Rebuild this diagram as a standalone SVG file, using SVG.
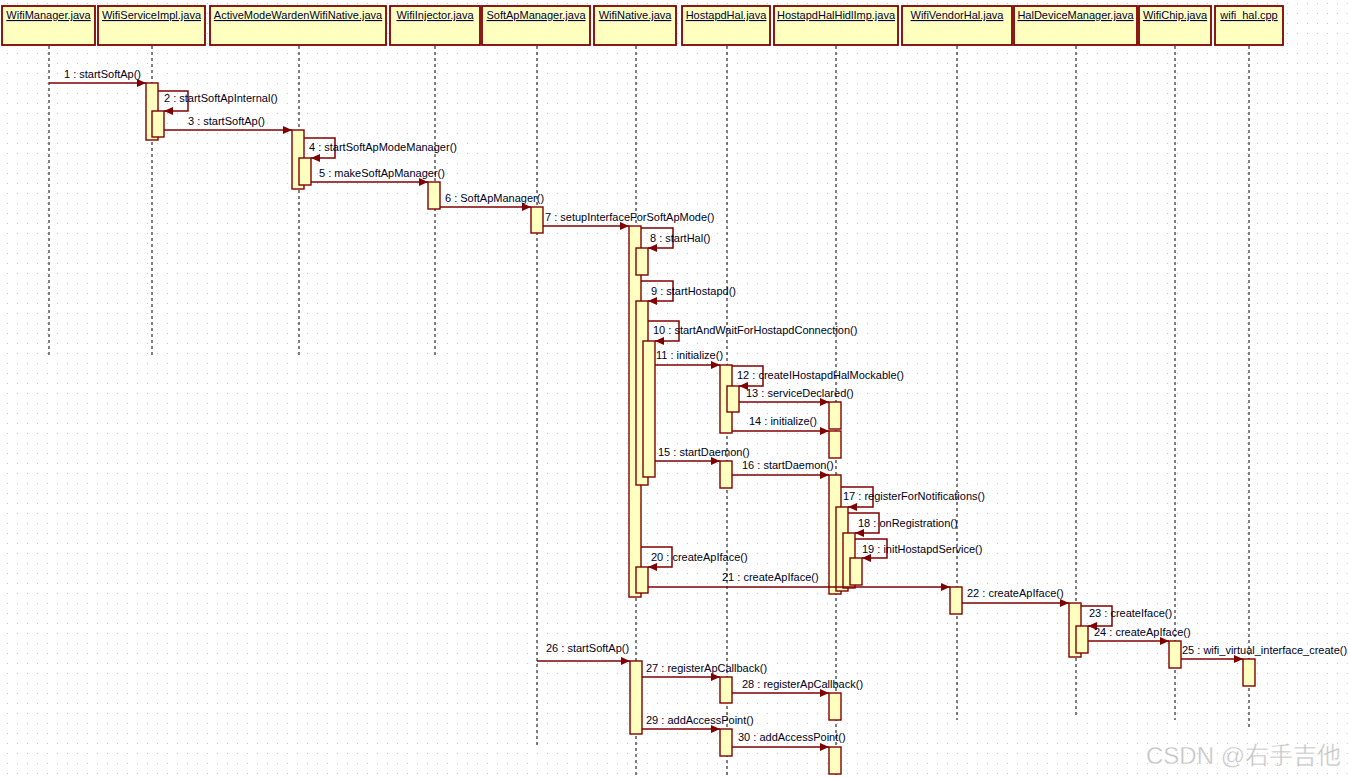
<svg xmlns="http://www.w3.org/2000/svg" width="1348" height="777" viewBox="0 0 1348 777">
<defs>
<pattern id="grid" width="10" height="10" patternUnits="userSpaceOnUse"><rect x="7" y="3" width="1" height="1" fill="#c4c4c4"/></pattern>
<marker id="ah" markerWidth="10" markerHeight="9" refX="9" refY="4" orient="auto" markerUnits="userSpaceOnUse"><path d="M0,0 L9,4 L0,8 Z" fill="#800000"/></marker>
<style>
.hdr{fill:#ffffc0;stroke:#800000;stroke-width:1.8}
.ht{font-family:"Liberation Sans",Arial,sans-serif;font-size:11px;fill:#000040;text-anchor:middle;text-decoration:underline}
.ll{stroke:#000;stroke-width:1;stroke-dasharray:3,3;fill:none}
.act{fill:#ffffc0;stroke:#800000;stroke-width:1.4}
.msg{stroke:#800000;stroke-width:1.5;fill:none;marker-end:url(#ah)}
.lb{font-family:"Liberation Sans",Arial,sans-serif;font-size:11px;fill:#000020}
.wm{font-family:"Liberation Sans","Noto Sans CJK SC",sans-serif;font-size:24px;fill:#c4c4c4;stroke:#ffffff;stroke-width:0.4}
</style>
</defs>
<rect width="1348" height="777" fill="#ffffff"/>
<rect width="1348" height="777" fill="url(#grid)"/>

<g id="WifiManager">
<rect class="hdr" x="2" y="6" width="93" height="39"/>
<text class="ht" x="48.5" y="19">WifiManager.java</text>
<line class="ll" x1="49" y1="46" x2="49" y2="355"/>
</g>
<g id="WifiServiceImpl">
<rect class="hdr" x="98" y="6" width="107" height="39"/>
<text class="ht" x="151.5" y="19">WifiServiceImpl.java</text>
<line class="ll" x1="152" y1="46" x2="152" y2="355"/>
<rect class="act" x="146" y="83" width="12" height="57"/>
<rect class="act" x="152" y="111" width="12" height="26"/>
</g>
<g id="ActiveModeWardenWifiNative">
<rect class="hdr" x="210" y="6" width="176" height="39"/>
<text class="ht" x="298" y="19">ActiveModeWardenWifiNative.java</text>
<line class="ll" x1="299" y1="46" x2="299" y2="355"/>
<rect class="act" x="292" y="130" width="12" height="59"/>
<rect class="act" x="299" y="158" width="12" height="27"/>
</g>
<g id="WifiInjector">
<rect class="hdr" x="390" y="6" width="90" height="39"/>
<text class="ht" x="435" y="19">WifiInjector.java</text>
<line class="ll" x1="435" y1="46" x2="435" y2="355"/>
<rect class="act" x="428" y="182" width="12" height="27"/>
</g>
<g id="SoftApManager">
<rect class="hdr" x="482" y="6" width="108" height="39"/>
<text class="ht" x="536" y="19">SoftApManager.java</text>
<line class="ll" x1="537" y1="46" x2="537" y2="745"/>
<rect class="act" x="531" y="207" width="12" height="26"/>
</g>
<g id="WifiNative">
<rect class="hdr" x="594" y="6" width="82" height="39"/>
<text class="ht" x="635" y="19">WifiNative.java</text>
<line class="ll" x1="636" y1="46" x2="636" y2="777"/>
<rect class="act" x="629" y="226" width="12" height="371"/>
<rect class="act" x="636" y="248" width="12" height="27"/>
<rect class="act" x="636" y="301" width="12" height="184"/>
<rect class="act" x="643" y="341" width="12" height="136"/>
<rect class="act" x="636" y="567" width="12" height="26"/>
<rect class="act" x="630" y="661" width="12" height="73"/>
</g>
<g id="HostapdHal">
<rect class="hdr" x="682" y="6" width="88" height="39"/>
<text class="ht" x="726" y="19">HostapdHal.java</text>
<line class="ll" x1="727" y1="46" x2="727" y2="777"/>
<rect class="act" x="720" y="365" width="12" height="68"/>
<rect class="act" x="727" y="386" width="12" height="26"/>
<rect class="act" x="720" y="461" width="12" height="27"/>
<rect class="act" x="720" y="677" width="12" height="26"/>
<rect class="act" x="720" y="729" width="12" height="27"/>
</g>
<g id="HostapdHalHidlImp">
<rect class="hdr" x="774" y="6" width="124" height="39"/>
<text class="ht" x="836" y="19">HostapdHalHidlImp.java</text>
<line class="ll" x1="836" y1="46" x2="836" y2="777"/>
<rect class="act" x="829" y="402" width="12" height="27"/>
<rect class="act" x="829" y="431" width="12" height="27"/>
<rect class="act" x="829" y="475" width="12" height="119"/>
<rect class="act" x="836" y="507" width="12" height="84"/>
<rect class="act" x="843" y="533" width="12" height="55"/>
<rect class="act" x="850" y="558" width="12" height="27"/>
<rect class="act" x="829" y="693" width="12" height="27"/>
<rect class="act" x="829" y="747" width="12" height="27"/>
</g>
<g id="WifiVendorHal">
<rect class="hdr" x="902" y="6" width="110" height="39"/>
<text class="ht" x="957" y="19">WifiVendorHal.java</text>
<line class="ll" x1="957" y1="46" x2="957" y2="720"/>
<rect class="act" x="950" y="587" width="12" height="27"/>
</g>
<g id="HalDeviceManager">
<rect class="hdr" x="1014" y="6" width="123" height="39"/>
<text class="ht" x="1075.5" y="19">HalDeviceManager.java</text>
<line class="ll" x1="1076" y1="46" x2="1076" y2="715"/>
<rect class="act" x="1069" y="603" width="12" height="54"/>
<rect class="act" x="1076" y="626" width="12" height="27"/>
</g>
<g id="WifiChip">
<rect class="hdr" x="1139" y="6" width="72" height="39"/>
<text class="ht" x="1175" y="19">WifiChip.java</text>
<line class="ll" x1="1175" y1="46" x2="1175" y2="720"/>
<rect class="act" x="1169" y="641" width="12" height="27"/>
</g>
<g id="wifi_hal">
<rect class="hdr" x="1215" y="6" width="68" height="39"/>
<text class="ht" x="1249" y="19">wifi_hal.cpp</text>
<line class="ll" x1="1249" y1="46" x2="1249" y2="728"/>
<rect class="act" x="1243" y="659" width="12" height="27"/>
</g>

<g id="connectors">
<line class="msg" x1="49" y1="83" x2="146" y2="83"/>
<text class="lb" x="64" y="78">1 : startSoftAp()</text>
<polyline class="msg" points="158,91 188,91 188,111 164,111"/>
<text class="lb" x="164" y="102">2 : startSoftApInternal()</text>
<line class="msg" x1="164" y1="130" x2="292" y2="130"/>
<text class="lb" x="188" y="125">3 : startSoftAp()</text>
<polyline class="msg" points="304,138 335,138 335,158 311,158"/>
<text class="lb" x="309" y="151">4 : startSoftApModeManager()</text>
<line class="msg" x1="311" y1="182" x2="428" y2="182"/>
<text class="lb" x="319" y="177">5 : makeSoftApManager()</text>
<line class="msg" x1="440" y1="207" x2="531" y2="207"/>
<text class="lb" x="445" y="202">6 : SoftApManager()</text>
<line class="msg" x1="543" y1="226" x2="629" y2="226"/>
<text class="lb" x="545" y="221">7 : setupInterfaceForSoftApMode()</text>
<polyline class="msg" points="641,228 673,228 673,248 648,248"/>
<text class="lb" x="650" y="242">8 : startHal()</text>
<polyline class="msg" points="641,281 673,281 673,301 648,301"/>
<text class="lb" x="651" y="295">9 : startHostapd()</text>
<polyline class="msg" points="648,321 679,321 679,341 655,341"/>
<text class="lb" x="653" y="334">10 : startAndWaitForHostapdConnection()</text>
<line class="msg" x1="655" y1="365" x2="720" y2="365"/>
<text class="lb" x="656" y="359">11 : initialize()</text>
<polyline class="msg" points="732,366 763,366 763,386 739,386"/>
<text class="lb" x="737" y="379">12 : createIHostapdHalMockable()</text>
<line class="msg" x1="739" y1="402" x2="829" y2="402"/>
<text class="lb" x="746" y="397">13 : serviceDeclared()</text>
<line class="msg" x1="732" y1="431" x2="829" y2="431"/>
<text class="lb" x="749" y="425">14 : initialize()</text>
<line class="msg" x1="655" y1="461" x2="720" y2="461"/>
<text class="lb" x="658" y="456">15 : startDaemon()</text>
<line class="msg" x1="732" y1="475" x2="829" y2="475"/>
<text class="lb" x="742" y="469">16 : startDaemon()</text>
<polyline class="msg" points="841,487 873,487 873,507 848,507"/>
<text class="lb" x="843" y="500">17 : registerForNotifications()</text>
<polyline class="msg" points="848,513 879,513 879,533 855,533"/>
<text class="lb" x="858" y="527">18 : onRegistration()</text>
<polyline class="msg" points="855,539 887,539 887,558 862,558"/>
<text class="lb" x="862" y="553">19 : initHostapdService()</text>
<polyline class="msg" points="641,547 672,547 672,567 648,567"/>
<text class="lb" x="651" y="561">20 : createApIface()</text>
<line class="msg" x1="648" y1="587" x2="950" y2="587"/>
<text class="lb" x="722" y="581">21 : createApIface()</text>
<line class="msg" x1="962" y1="603" x2="1069" y2="603"/>
<text class="lb" x="967" y="597">22 : createApIface()</text>
<polyline class="msg" points="1081,606 1112,606 1112,626 1088,626"/>
<text class="lb" x="1089" y="617">23 : createIface()</text>
<line class="msg" x1="1088" y1="641" x2="1169" y2="641"/>
<text class="lb" x="1094" y="636">24 : createApIface()</text>
<line class="msg" x1="1181" y1="659" x2="1243" y2="659"/>
<text class="lb" x="1182" y="654">25 : wifi_virtual_interface_create()</text>
<line class="msg" x1="537" y1="661" x2="630" y2="661"/>
<text class="lb" x="546" y="652">26 : startSoftAp()</text>
<line class="msg" x1="642" y1="677" x2="720" y2="677"/>
<text class="lb" x="646" y="672">27 : registerApCallback()</text>
<line class="msg" x1="732" y1="693" x2="829" y2="693"/>
<text class="lb" x="742" y="688">28 : registerApCallback()</text>
<line class="msg" x1="642" y1="729" x2="720" y2="729"/>
<text class="lb" x="646" y="724">29 : addAccessPoint()</text>
<line class="msg" x1="732" y1="747" x2="829" y2="747"/>
<text class="lb" x="738" y="741">30 : addAccessPoint()</text>
</g>
<text class="wm" x="1146" y="764">CSDN @右手吉他</text>
</svg>
